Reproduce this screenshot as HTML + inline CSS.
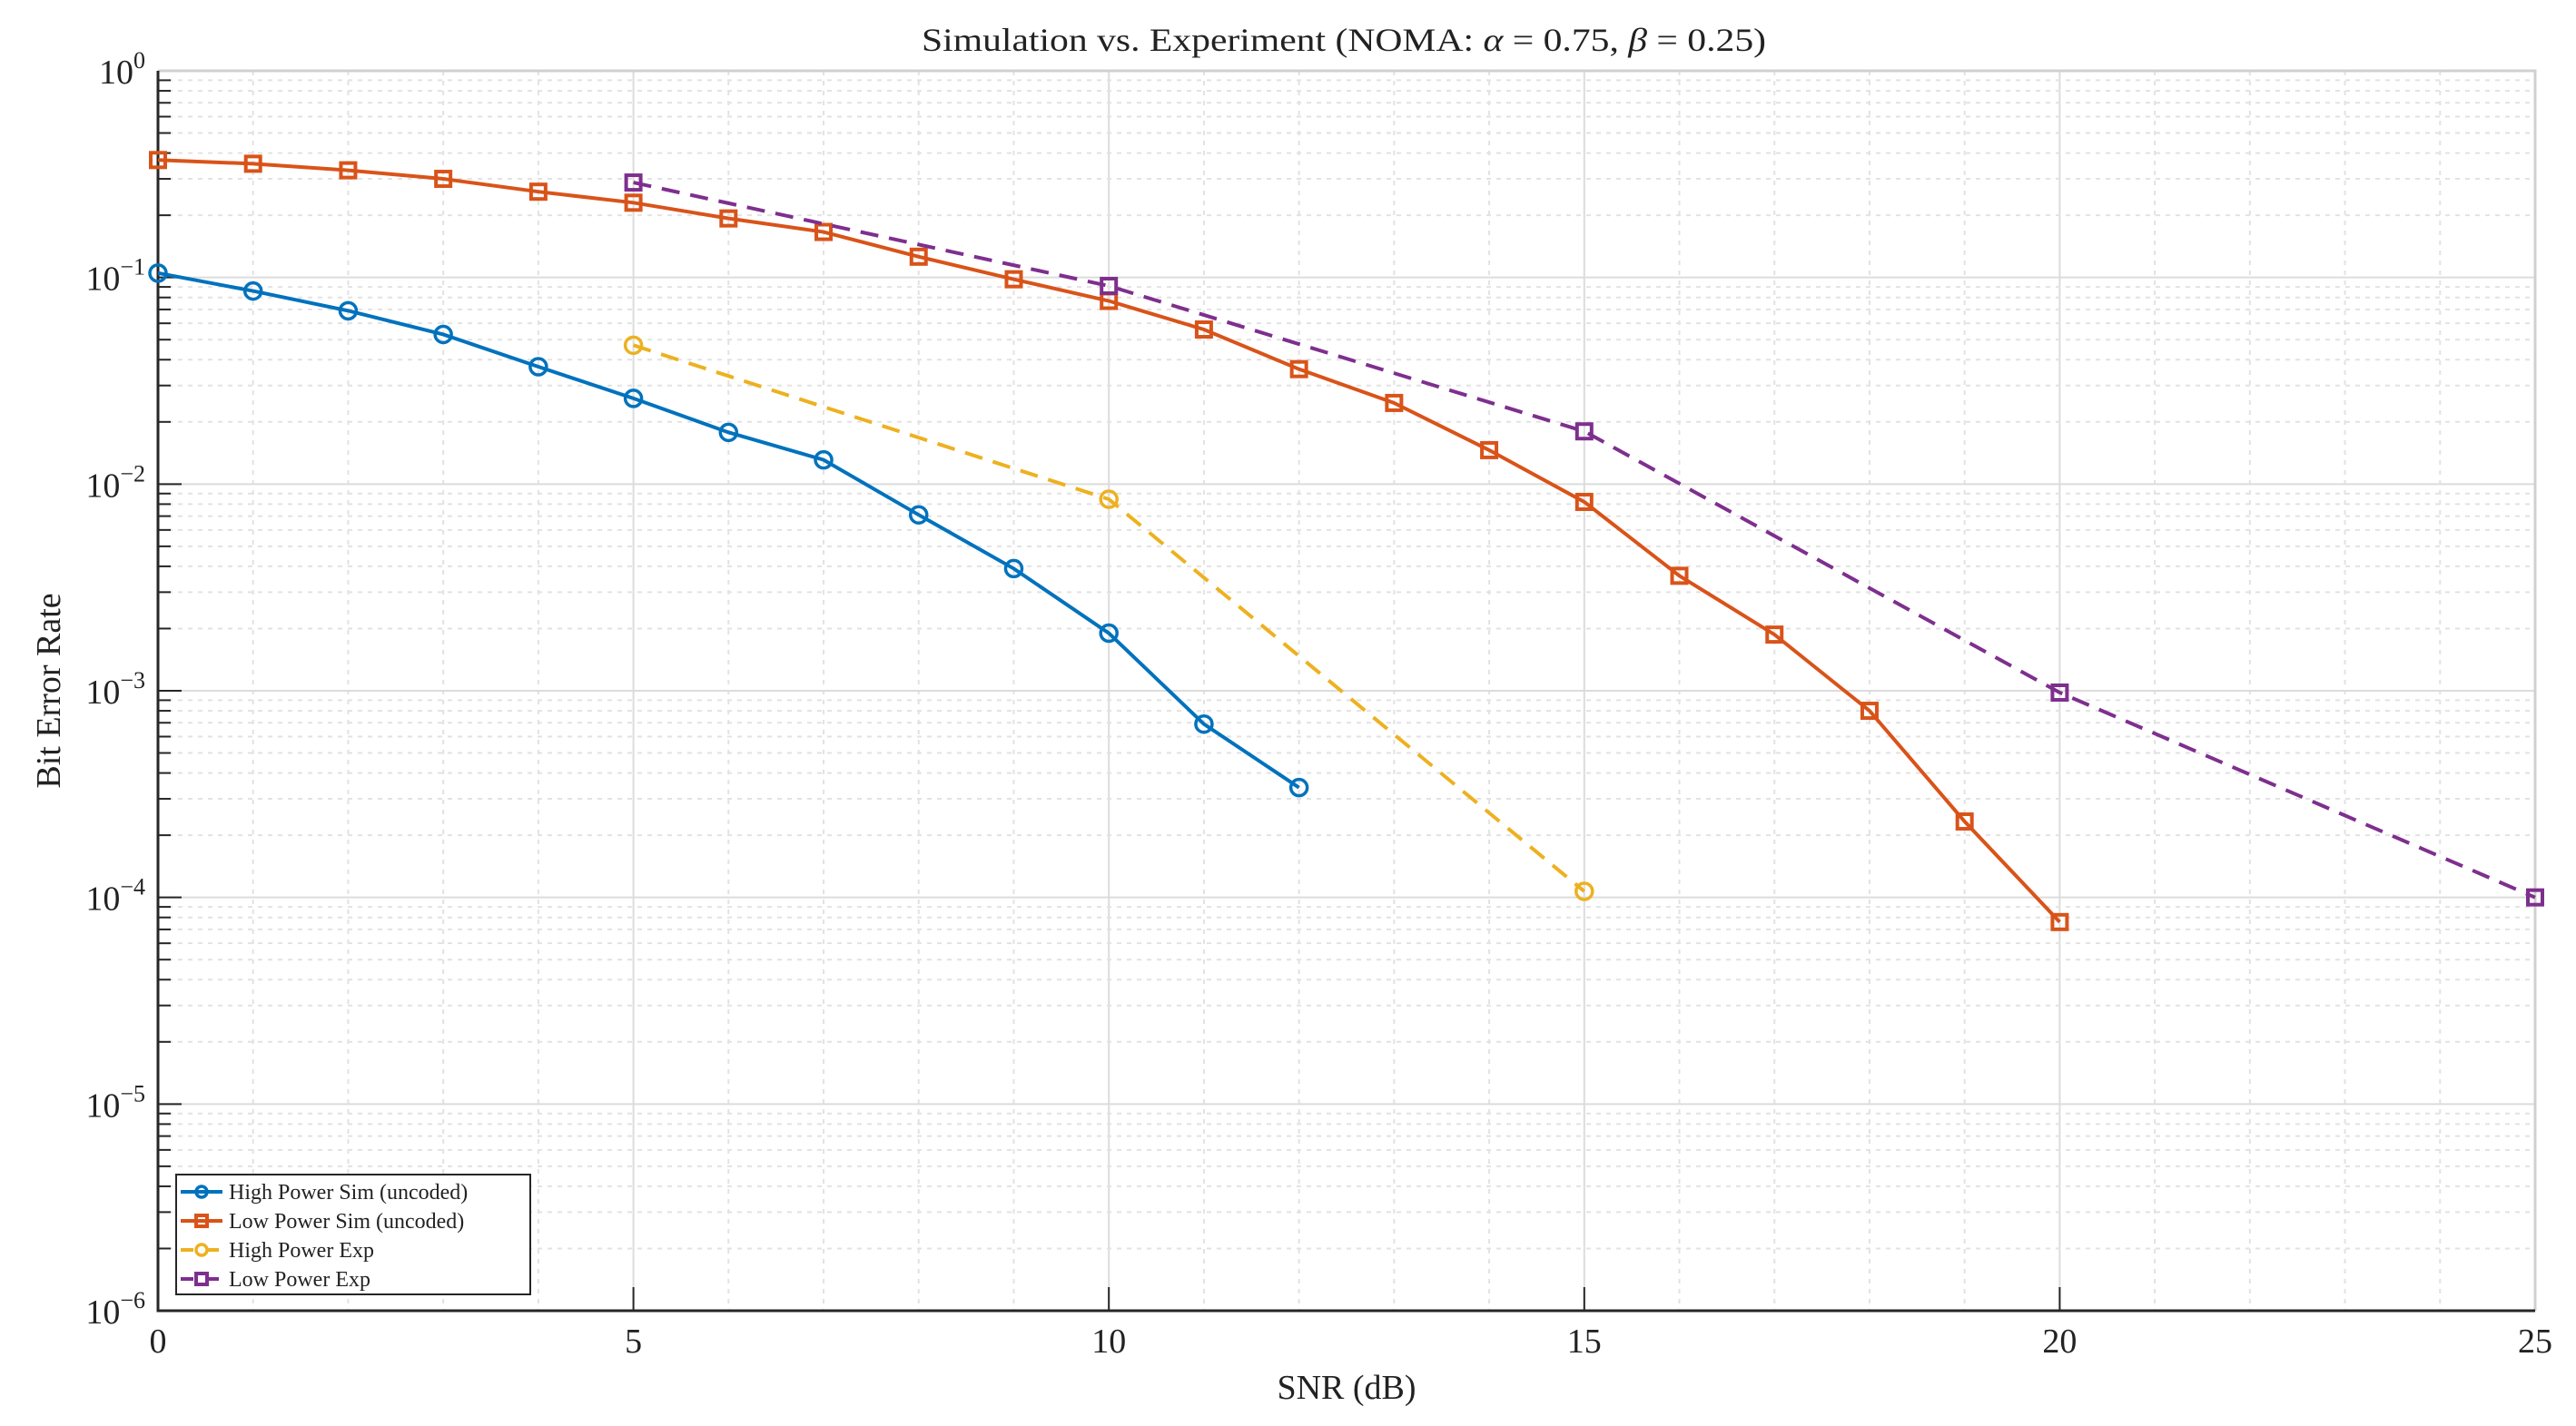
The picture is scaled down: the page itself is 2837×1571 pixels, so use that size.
<!DOCTYPE html>
<html><head><meta charset="utf-8"><style>
html,body{margin:0;padding:0;background:#fff;}
svg{display:block;font-family:"Liberation Serif",serif;}
</style></head><body>
<svg id="chart" width="2837" height="1571" viewBox="0 0 2837 1571" xmlns="http://www.w3.org/2000/svg">
<rect width="2837" height="1571" fill="#fff"/>
<g id="grid"></g>
<g id="axes"></g>
<g id="series"></g>
<text x="1480" y="56" font-size="36" text-anchor="middle" textLength="930" lengthAdjust="spacingAndGlyphs" fill="#222">Simulation vs. Experiment (NOMA: <tspan font-style="italic">α</tspan> = 0.75, <tspan font-style="italic">β</tspan> = 0.25)</text>
<text x="1483" y="1541" font-size="38" text-anchor="middle" fill="#222">SNR (dB)</text>
<text transform="translate(66,761) rotate(-90)" font-size="38" text-anchor="middle" fill="#222">Bit Error Rate</text>
<g id="legend"></g>
</svg>
<script>
const snrSim = [0,1,2,3,4,5,6,7,8,9,10,11,12,13,14,15,16,17,18,19,20];
const highSim = [0.105,0.086,0.069,0.053,0.037,0.026,0.0178,0.0131,0.0071,0.0039,0.0019,0.00069,0.00034];
const lowSim = [0.37,0.355,0.33,0.30,0.26,0.23,0.193,0.166,0.126,0.098,0.077,0.056,0.036,0.0247,0.0146,0.0082,0.0036,0.00187,0.0008,0.000233,0.000076];
const snrExpHigh = [5,10,15];
const highExp = [0.047,0.00845,0.000107];
const snrExpLow = [5,10,15,20,25];
const lowExp = [0.288,0.091,0.018,0.00098,0.0001];
const xTicks = [0,5,10,15,20,25];
const yExps = [0,-1,-2,-3,-4,-5,-6];
const legendLabels = ["High Power Sim (uncoded)","Low Power Sim (uncoded)","High Power Exp","Low Power Exp"];

const L=174,R=2792,T=78,B=1444;
const xs=v=>L+(v-0)/(25-0)*(R-L);
const ys=v=>T+(0-Math.log10(v))/6*(B-T);
const NS="http://www.w3.org/2000/svg";
function mk(tag,attrs,parent){const e=document.createElementNS(NS,tag);for(const k in attrs)e.setAttribute(k,attrs[k]);parent.appendChild(e);return e;}
const grid=document.getElementById('grid'),axes=document.getElementById('axes'),series=document.getElementById('series'),legend=document.getElementById('legend');

// minor x grid
for(let i=0;i<=25;i++){
  const major=i%5===0;
  const ln=mk('line',{x1:xs(i),x2:xs(i),y1:T,y2:B,stroke:major?'#dcdcdc':'#e2e2e2','stroke-width':2,'stroke-dasharray':major?'':'5,6'},grid);
  
  
}
// y grid
for(let d=-6;d<0;d++){
  for(let m=2;m<=9;m++){
    const y=ys(m*Math.pow(10,d));
    const ln=mk('line',{x1:L,x2:R,y1:y,y2:y,stroke:'#e2e2e2','stroke-width':2,'stroke-dasharray':'5,6'},grid);
    
    
    const tk=mk('line',{x1:L,x2:L+14,y1:y,y2:y,stroke:'#262626','stroke-width':2},axes);
    
    
  }
}
yExps.forEach(e=>{
  const y=ys(Math.pow(10,e));
  const ln=mk('line',{x1:L,x2:R,y1:y,y2:y,stroke:'#dcdcdc','stroke-width':2},grid);
  
  
  const tk=mk('line',{x1:L,x2:L+26,y1:y,y2:y,stroke:'#262626','stroke-width':2},axes);
  
  
  const t=mk('text',{x:L-14,y:y+14,'font-size':38,'text-anchor':'end',fill:'#222'},axes);
  
  
  t.textContent='10';
  const s=mk('tspan',{dy:-17,'font-size':26},t);
  s.textContent=(e<0?'\u2212'+(-e):'0');
});
xTicks.forEach(v=>{
  const x=xs(v);
  const tk=mk('line',{x1:x,x2:x,y1:B,y2:B-26,stroke:'#262626','stroke-width':2},axes);
  
  
  const t=mk('text',{x:x,y:B+46,'font-size':38,'text-anchor':'middle',fill:'#222'},axes);
  
  
  t.textContent=v;
});
const box=mk('path',{d:`M${L},${T} H${R} V${B}`,fill:'none',stroke:'#d0d0d0','stroke-width':3},axes);


const ax=mk('path',{d:`M${L},${T} V${B} H${R}`,fill:'none',stroke:'#262626','stroke-width':3},axes);



function marker(parent,x,y,shape,color,r){
  let m;
  if(shape==='o') m=mk('circle',{cx:x,cy:y,r:r,fill:'none',stroke:color,'stroke-width':3.5},parent);
  else m=mk('rect',{x:x-r,y:y-r,width:2*r,height:2*r,fill:'none',stroke:color,'stroke-width':4},parent);
  return m;
}
function drawSeries(name,xv,yv,color,dash,shape){
  const g=mk('g',{},series);
  
  
  const pts=yv.map((v,i)=>xs(xv[i])+','+ys(v)).join(' ');
  const pl=mk('polyline',{points:pts,fill:'none',stroke:color,'stroke-width':4,'stroke-dasharray':dash},g);
  
  
  yv.forEach((v,i)=>{
    const m=marker(g,xs(xv[i]),ys(v),shape,color,shape==='o'?9:8);
    
    
  });
}
drawSeries('high-power-sim',snrSim,highSim,'#0072BD','','o');
drawSeries('low-power-sim',snrSim,lowSim,'#D95319','','s');
drawSeries('high-power-exp',snrExpHigh,highExp,'#EDB120','20,12','o');
drawSeries('low-power-exp',snrExpLow,lowExp,'#7E2F8E','20,12','s');

// legend
const lb=mk('rect',{x:194,y:1294,width:390,height:132,fill:'#fff',stroke:'#262626','stroke-width':2},legend);


const lc=[['#0072BD','','o'],['#D95319','','s'],['#EDB120','14,14','o'],['#7E2F8E','14,14','s']];
legendLabels.forEach((lab,i)=>{
  const y=1313+i*32;
  const g=mk('g',{},legend);
  
  
  mk('line',{x1:199,x2:245,y1:y,y2:y,stroke:lc[i][0],'stroke-width':4,'stroke-dasharray':lc[i][1]},g);
  marker(g,222,y,lc[i][2],lc[i][0],lc[i][2]==='o'?6:6);
  const t=mk('text',{x:252,y:y+8,'font-size':24,fill:'#222'},g);
  t.textContent=lab;
});
</script>
</body></html>
